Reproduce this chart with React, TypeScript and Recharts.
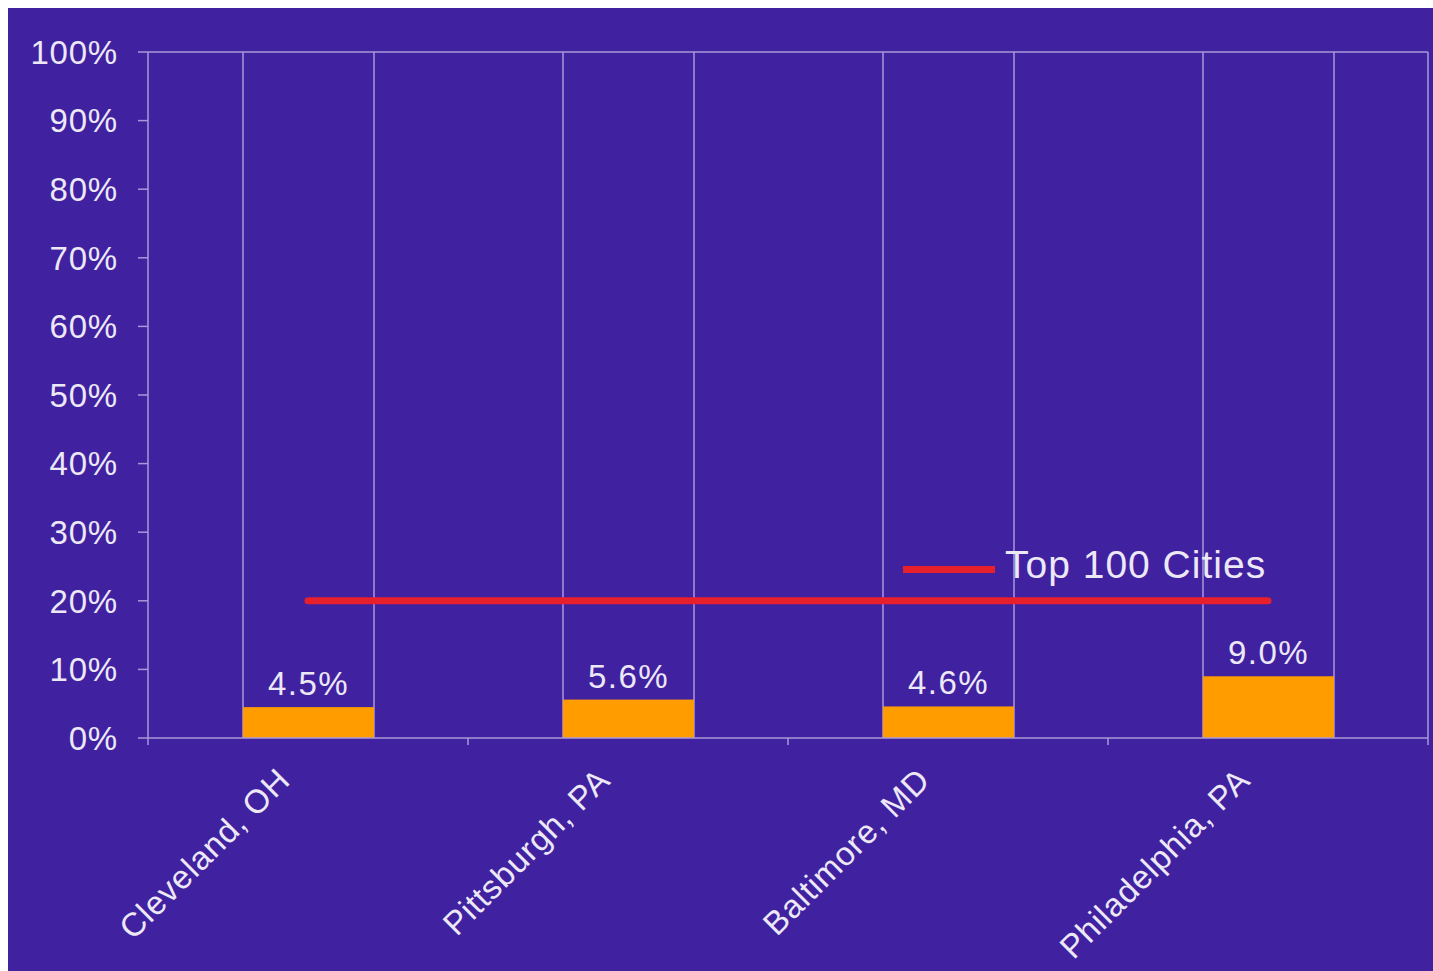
import { ComposedChart, Bar, Line, XAxis, YAxis, Legend, LabelList, CartesianGrid } from 'recharts';

const cities = ['Cleveland, OH', 'Pittsburgh, PA', 'Baltimore, MD', 'Philadelphia, PA'];
const shares = [4.5, 5.6, 4.6, 9.0];
const top100Cities = [20, 20, 20, 20];
const yTicks = [0, 10, 20, 30, 40, 50, 60, 70, 80, 90, 100];

const BG = '#4021a0';
const GRID = '#a898d8';
const TEXT = '#ece8f6';
const BAR = '#ff9c00';
const RED = '#e8202c';
const FONT = '"Liberation Sans", Arial, sans-serif';

const data = cities.map((city, i) => ({ city, share: shares[i], top100: top100Cities[i] }));

// bar with the vertical rules at its edges, like the original sheet
function EdgeBar(props: any) {
  const { x, y, width, height, background, fill } = props;
  const top = background ? background.y : y;
  const bottom = background ? background.y + background.height : y + height;
  return (
    <g>
      <line x1={x} x2={x} y1={top} y2={bottom} stroke={GRID} strokeWidth={1.5} />
      <line x1={x + width} x2={x + width} y1={top} y2={bottom} stroke={GRID} strokeWidth={1.5} />
      <rect x={x} y={y} width={width} height={height} fill={fill} />
    </g>
  );
}

function CityTick({ x, y, payload }: any) {
  const half = payload.offset ?? 0;
  return (
    <g>
      <line x1={x + half} x2={x + half} y1={y} y2={y + 7} stroke={GRID} strokeWidth={1.5} />
      {payload.index === 0 && <line x1={x - half} x2={x - half} y1={y} y2={y + 7} stroke={GRID} strokeWidth={1.5} />}
      <text
        transform={`translate(${x - 16},${y + 44}) rotate(-45)`}
        textAnchor="end"
        fill={TEXT}
        fontSize={33}
        letterSpacing={0.8}
        fontFamily={FONT}
      >
        {payload.value}
      </text>
    </g>
  );
}

function LegendBox() {
  return (
    <div style={{ display: 'flex', alignItems: 'flex-start', fontFamily: FONT, color: TEXT, fontSize: 39, lineHeight: '39px', letterSpacing: 1, whiteSpace: 'nowrap' }}>
      <span style={{ display: 'inline-block', width: 92, height: 7, background: RED, marginTop: 21, marginRight: 10 }} />
      <span>Top 100 Cities</span>
    </div>
  );
}

export default function App() {
  return (
    <div style={{ position: 'fixed', left: 8, top: 8, width: 1425, height: 963, background: BG, fontFamily: FONT }}>
      <ComposedChart width={1425} height={963} data={data} margin={{ top: 44, right: 5, bottom: 0, left: 0 }}>
        <CartesianGrid
          stroke={GRID}
          strokeWidth={1.5}
          horizontalCoordinatesGenerator={({ offset }: any) => [offset.top]}
          verticalCoordinatesGenerator={({ offset }: any) => [offset.left + offset.width]}
        />
        <XAxis
          dataKey="city"
          height={233}
          interval={0}
          tick={<CityTick />}
          tickLine={false}
          tickSize={0}
          tickMargin={0}
          axisLine={{ stroke: GRID, strokeWidth: 1.5 }}
        />
        <YAxis
          domain={[0, 100]}
          ticks={yTicks}
          width={140}
          tickFormatter={(v) => `${v}%`}
          tick={{ fill: TEXT, fontSize: 33, fontFamily: FONT, letterSpacing: 0.8 }}
          tickSize={10}
          tickMargin={20}
          tickLine={{ stroke: GRID, strokeWidth: 1.5 }}
          axisLine={{ stroke: GRID, strokeWidth: 1.5 }}
        />
        <Legend
          verticalAlign="middle"
          align="center"
          layout="horizontal"
          content={<LegendBox />}
          wrapperStyle={{ left: 895, top: 537, width: 'auto' }}
        />
        <Bar dataKey="share" fill={BAR} barSize={131} shape={<EdgeBar />} isAnimationActive={false} legendType="none">
          <LabelList
            dataKey="share"
            position="top"
            offset={12}
            formatter={(v: any) => `${Number(v).toFixed(1)}%`}
            fill={TEXT}
            fontSize={33}
            letterSpacing={1.5}
            fontFamily={FONT}
          />
        </Bar>
        <Line
          dataKey="top100"
          name="Top 100 Cities"
          stroke={RED}
          strokeWidth={7}
          strokeLinecap="round"
          dot={false}
          activeDot={false}
          isAnimationActive={false}
        />
      </ComposedChart>
    </div>
  );
}
